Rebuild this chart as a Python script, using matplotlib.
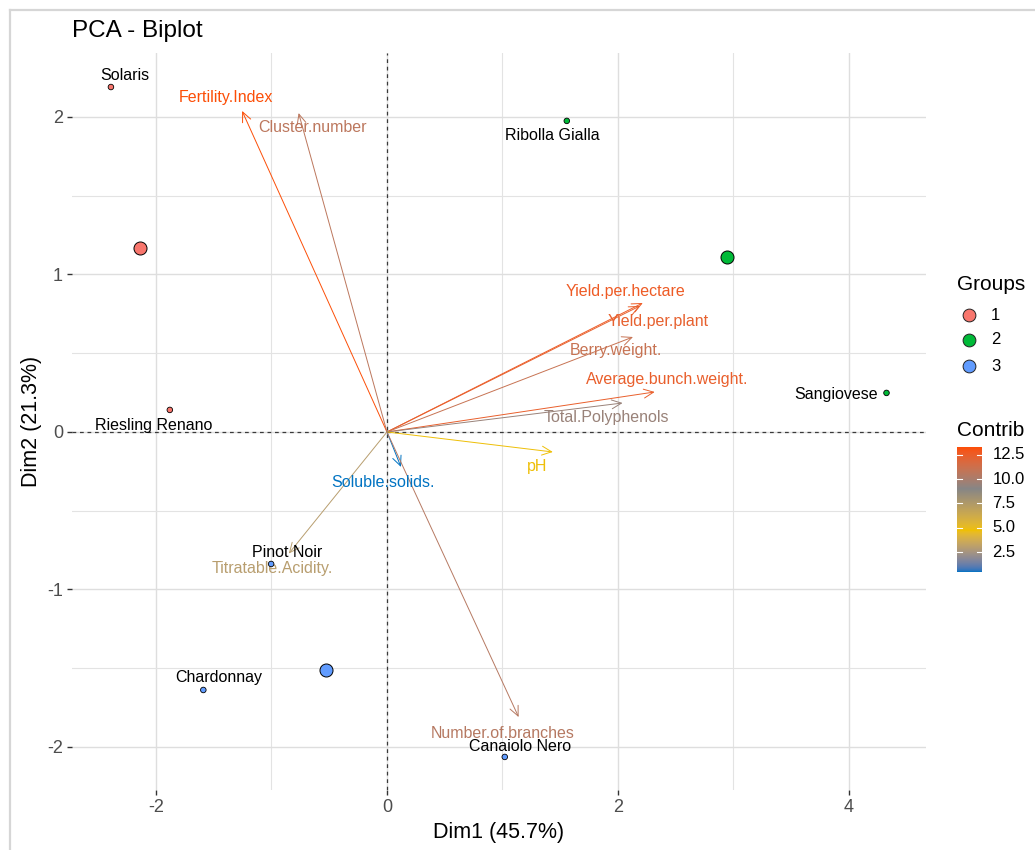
import numpy as np
import matplotlib
matplotlib.use("Agg")
import matplotlib.pyplot as plt
from matplotlib.colors import ListedColormap, Normalize
from matplotlib.patches import FancyArrowPatch
from matplotlib.lines import Line2D

# ---------------- data ----------------
cultivars = ["Solaris", "Riesling Renano", "Ribolla Gialla", "Sangiovese",
             "Pinot Noir", "Chardonnay", "Canaiolo Nero"]
dim1 = [-2.39, -1.88, 1.557, 4.325, -1.003, -1.59, 1.02]
dim2 = [2.19, 0.14, 1.975, 0.248, -0.838, -1.638, -2.063]
groups = [1, 1, 2, 2, 3, 3, 3]

variables = ["Fertility.Index", "Cluster.number", "Yield.per.hectare",
             "Yield.per.plant", "Berry.weight.", "Average.bunch.weight.",
             "Total.Polyphenols", "pH", "Soluble.solids.",
             "Titratable.Acidity.", "Number.of.branches"]
var_dim1 = [-1.254, -0.765, 2.215, 2.19, 2.13, 2.318, 2.04, 1.436, 0.121, -0.85, 1.14]
var_dim2 = [2.038, 2.025, 0.819, 0.80, 0.603, 0.254, 0.184, -0.127, -0.222, -0.772, -1.81]
contrib = [13.3, 10.6, 12.6, 12.3, 11.0, 12.4, 9.5, 4.8, 0.45, 3.0, 10.4]

group_levels = [1, 2, 3]
group_colors = ["#F8766D", "#00BA38", "#619CFF"]
gradient_cols = ["#0073C2", "#EFC000", "#868686", "#FC4E07"]

x_ticks = [-2, 0, 2, 4]
y_ticks = [-2, -1, 0, 1, 2]
xlabel = "Dim1 (45.7%)"
ylabel = "Dim2 (21.3%)"

# ---------------- colour gradient interpolated in CIE Lab ----------------
def _hex_to_rgb(h):
    h = h.lstrip("#")
    return np.array([int(h[i:i + 2], 16) / 255 for i in (0, 2, 4)])

_M = np.array([[0.4124564, 0.3575761, 0.1804375],
               [0.2126729, 0.7151522, 0.0721750],
               [0.0193339, 0.1191920, 0.9503041]])
_WHITE = np.array([0.95047, 1.0, 1.08883])


def srgb_to_lab(rgb):
    lin = np.where(rgb <= 0.04045, rgb / 12.92, ((rgb + 0.055) / 1.055) ** 2.4)
    xyz = _M @ lin / _WHITE
    f = np.where(xyz > (6 / 29) ** 3, np.cbrt(xyz), xyz / (3 * (6 / 29) ** 2) + 4 / 29)
    return np.array([116 * f[1] - 16, 500 * (f[0] - f[1]), 200 * (f[1] - f[2])])


def lab_to_srgb(lab):
    fy_ = (lab[0] + 16) / 116
    fx_ = fy_ + lab[1] / 500
    fz_ = fy_ - lab[2] / 200
    f = np.array([fx_, fy_, fz_])
    xyz = np.where(f > 6 / 29, f ** 3, 3 * (6 / 29) ** 2 * (f - 4 / 29)) * _WHITE
    lin = np.linalg.solve(_M, xyz)
    lin = np.clip(lin, 0, 1)
    rgb = np.where(lin <= 0.0031308, 12.92 * lin, 1.055 * lin ** (1 / 2.4) - 0.055)
    return np.clip(rgb, 0, 1)


labs = [srgb_to_lab(_hex_to_rgb(c)) for c in gradient_cols]
stops = np.linspace(0, 1, len(gradient_cols))
cm_colors = []
for t in np.linspace(0, 1, 256):
    k = min(int(t * (len(stops) - 1)), len(stops) - 2)
    u = (t - stops[k]) / (stops[k + 1] - stops[k])
    cm_colors.append(lab_to_srgb(labs[k] * (1 - u) + labs[k + 1] * u))
contrib_cmap = ListedColormap(cm_colors)
norm = Normalize(vmin=min(contrib), vmax=max(contrib))

# ---------------- figure ----------------
W, H = 1035, 850
fig = plt.figure(figsize=(W / 100, H / 100), dpi=100)
plt.rcParams["font.family"] = ["Liberation Sans", "DejaVu Sans"]


def fx(x):
    return x / W


def fy(y):
    return 1 - y / H


# outer light frame
fig.add_artist(Line2D([fx(10), fx(10)], [fy(10), 0], color="#D6D6D6", lw=1.6))
fig.add_artist(Line2D([fx(10), 1], [fy(10), fy(10)], color="#D6D6D6", lw=1.6))

left, right, top, bottom = 72, 926, 53, 790
ax = fig.add_axes([fx(left), fy(bottom), (right - left) / W, (bottom - top) / H])
ax.set_xlim(-2.727, 4.667)
ax.set_ylim(-2.273, 2.406)
for s in ax.spines.values():
    s.set_visible(False)

ax.set_xticks(x_ticks)
ax.set_yticks(y_ticks)
ax.set_xticks([-1, 1, 3], minor=True)
ax.set_yticks([-1.5, -0.5, 0.5, 1.5], minor=True)
ax.grid(True, which="major", color="#DEDEDE", lw=1.0)
ax.grid(True, which="minor", color="#E3E3E3", lw=0.8)
ax.set_axisbelow(True)
ax.tick_params(which="major", length=3.5, width=1.0, color="#333333",
               labelcolor="#4D4D4D", labelsize=13, pad=3)
ax.tick_params(which="minor", length=0)
ax.set_xticklabels([str(t) for t in x_ticks])
ax.set_yticklabels([str(t) for t in y_ticks])
ax.set_xlabel(xlabel, fontsize=15.5, labelpad=4)
ax.set_ylabel(ylabel, fontsize=15.5, labelpad=4)

ax.axhline(0, color="#3A3A3A", lw=0.9, ls=(0, (3, 3)), zorder=1)
ax.axvline(0, color="#3A3A3A", lw=0.9, ls=(0, (3, 3)), zorder=1)

# variable arrows
var_label_offsets = {
    "Fertility.Index": (-16, 13), "Cluster.number": (14, -14),
    "Yield.per.hectare": (-17, 11), "Yield.per.plant": (18, -16),
    "Berry.weight.": (-17, -14), "Average.bunch.weight.": (13, 12),
    "Total.Polyphenols": (-16, -15), "pH": (-16, -15),
    "Soluble.solids.": (-18, -16), "Titratable.Acidity.": (-16, -15),
    "Number.of.branches": (-16, -16),
}
for name, vx, vy, c in zip(variables, var_dim1, var_dim2, contrib):
    col = contrib_cmap(norm(c))
    arr = FancyArrowPatch((0, 0), (vx, vy), arrowstyle="->,head_length=7,head_width=3.2",
                          mutation_scale=1, color=col, lw=0.7, shrinkA=0, shrinkB=0,
                          zorder=3)
    ax.add_patch(arr)
    dx, dy = var_label_offsets[name]
    ax.annotate(name, (vx, vy), xytext=(dx, dy), textcoords="offset pixels",
                ha="center", va="center", color=col, fontsize=11.5, zorder=4)

# individuals
gcol = {g: c for g, c in zip(group_levels, group_colors)}
ax.scatter(dim1, dim2, s=16, c=[gcol[g] for g in groups], edgecolors="black",
           linewidths=0.6, zorder=5)
ind_label_offsets = {
    "Solaris": (14, 12), "Riesling Renano": (-16, -16), "Ribolla Gialla": (-14, -15),
    "Sangiovese": (-50, -2), "Pinot Noir": (16, 11), "Chardonnay": (15, 12),
    "Canaiolo Nero": (15, 10),
}
for name, x, y in zip(cultivars, dim1, dim2):
    dx, dy = ind_label_offsets[name]
    ax.annotate(name, (x, y), xytext=(dx, dy), textcoords="offset pixels",
                ha="center", va="center", color="black", fontsize=11.5, zorder=6)

# group centroids
for g, col in zip(group_levels, group_colors):
    gx = np.mean([x for x, gg in zip(dim1, groups) if gg == g])
    gy = np.mean([y for y, gg in zip(dim2, groups) if gg == g])
    ax.scatter([gx], [gy], s=88, c=col, edgecolors="black", linewidths=0.7, zorder=5)

# title
fig.text(fx(72), fy(31), "PCA - Biplot", fontsize=17.5, ha="left", va="center")

# groups legend
fig.text(fx(957), fy(284), "Groups", fontsize=15, ha="left", va="center")
for i, (g, col) in enumerate(zip(group_levels, group_colors)):
    yy = [315, 340, 366][i]
    fig.add_artist(Line2D([fx(969)], [fy(yy)], marker="o", markersize=9.2,
                          markerfacecolor=col, markeredgecolor="#222222",
                          markeredgewidth=0.7, lw=0))
    fig.text(fx(991), fy(yy), str(g), fontsize=12, ha="left", va="center")

# contribution colour bar
fig.text(fx(957), fy(430), "Contrib", fontsize=15, ha="left", va="center")
cb_top, cb_bot, cb_l, cb_r = 447, 572, 957, 982
cax = fig.add_axes([fx(cb_l), fy(cb_bot), (cb_r - cb_l) / W, (cb_bot - cb_top) / H])
grad = np.linspace(norm.vmin, norm.vmax, 256).reshape(-1, 1)
cax.imshow(grad, cmap=contrib_cmap, norm=norm, aspect="auto", origin="lower",
           extent=(0, 1, norm.vmin, norm.vmax))
cax.set_xlim(0, 1)
cax.set_ylim(norm.vmin, norm.vmax)
cax.set_xticks([])
cax.set_yticks([])
for s in cax.spines.values():
    s.set_visible(False)
for v in [2.5, 5.0, 7.5, 10.0, 12.5]:
    cax.plot([0, 0.2], [v, v], color="white", lw=0.8)
    cax.plot([0.8, 1], [v, v], color="white", lw=0.8)
    cax.text(1.42, v, f"{v:.1f}", transform=cax.get_yaxis_transform(),
             ha="left", va="center", fontsize=12)

fig.savefig("out.png", dpi=100, facecolor="white")
